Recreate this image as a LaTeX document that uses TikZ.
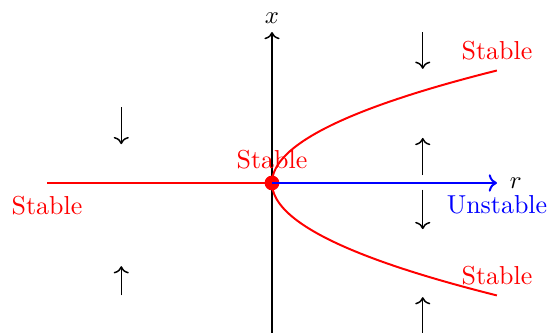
\documentclass[tikz,border=0pt]{standalone}
\usetikzlibrary{arrows.meta,positioning}
\tikzset{
  axis/.style={->,semithick},
  stablebranch/.style={red,thick},
  unstablebranch/.style={blue,thick},
  flow/.style={->,semithick},
  stablelabel/.style={red,inner sep=2pt,font=\fontsize{10.5}{12}\selectfont},
  unstablelabel/.style={blue,inner sep=2pt,font=\fontsize{10.5}{12}\selectfont}
}

\begin{document}
\begin{tikzpicture}[x=0.8cm,y=0.8cm]
  \useasboundingbox (-4.836,-2.667) rectangle (4.907,3.253);

  % axes and points
  \coordinate (O) at (0,0);
  \coordinate (rend) at (4,0);
  \coordinate (lend) at (-4,0);
  \coordinate (xbot) at (0,-2.667);
  \coordinate (xtop) at (0,2.684);
  \coordinate (upend) at (4,2);
  \coordinate (downend) at (4,-2);

  \draw[axis] (xbot) -- (xtop) node[above,inner sep=3pt] (xlab) {$x$};

  % stable branches
  \draw[stablebranch] (lend) -- (O);
  \draw[stablebranch,domain=0:2,samples=60] plot ({\x*\x},{\x});
  \draw[stablebranch,domain=0:2,samples=60] plot ({\x*\x},{-\x});
  \fill[red] (O) circle (3pt);

  % unstable branch
  \draw[unstablebranch,->] (O) -- (rend);
  \node[right=5pt of rend,inner sep=0pt] (rlab) {$r$};

  % labels
  \node[stablelabel,above=3.5pt of O] (s0) {Stable};
  \node[stablelabel,below=3pt of lend] (sl) {Stable};
  \node[stablelabel,above=2pt of upend] (su) {Stable};
  \node[stablelabel,above=2pt of downend] (sd) {Stable};
  \node[unstablelabel,below=3pt of rend] (us) {Unstable};

  % flow directions
  \foreach \r/\ya/\yb in {-2.68/1.35/0.69, -2.68/-2.0/-1.48,
      2.68/2.68/2.03, 2.68/0.14/0.8, 2.68/-0.12/-0.82, 2.68/-2.7/-2.03}
    \draw[flow] (\r,\ya) -- (\r,\yb);
\end{tikzpicture}
\end{document}
